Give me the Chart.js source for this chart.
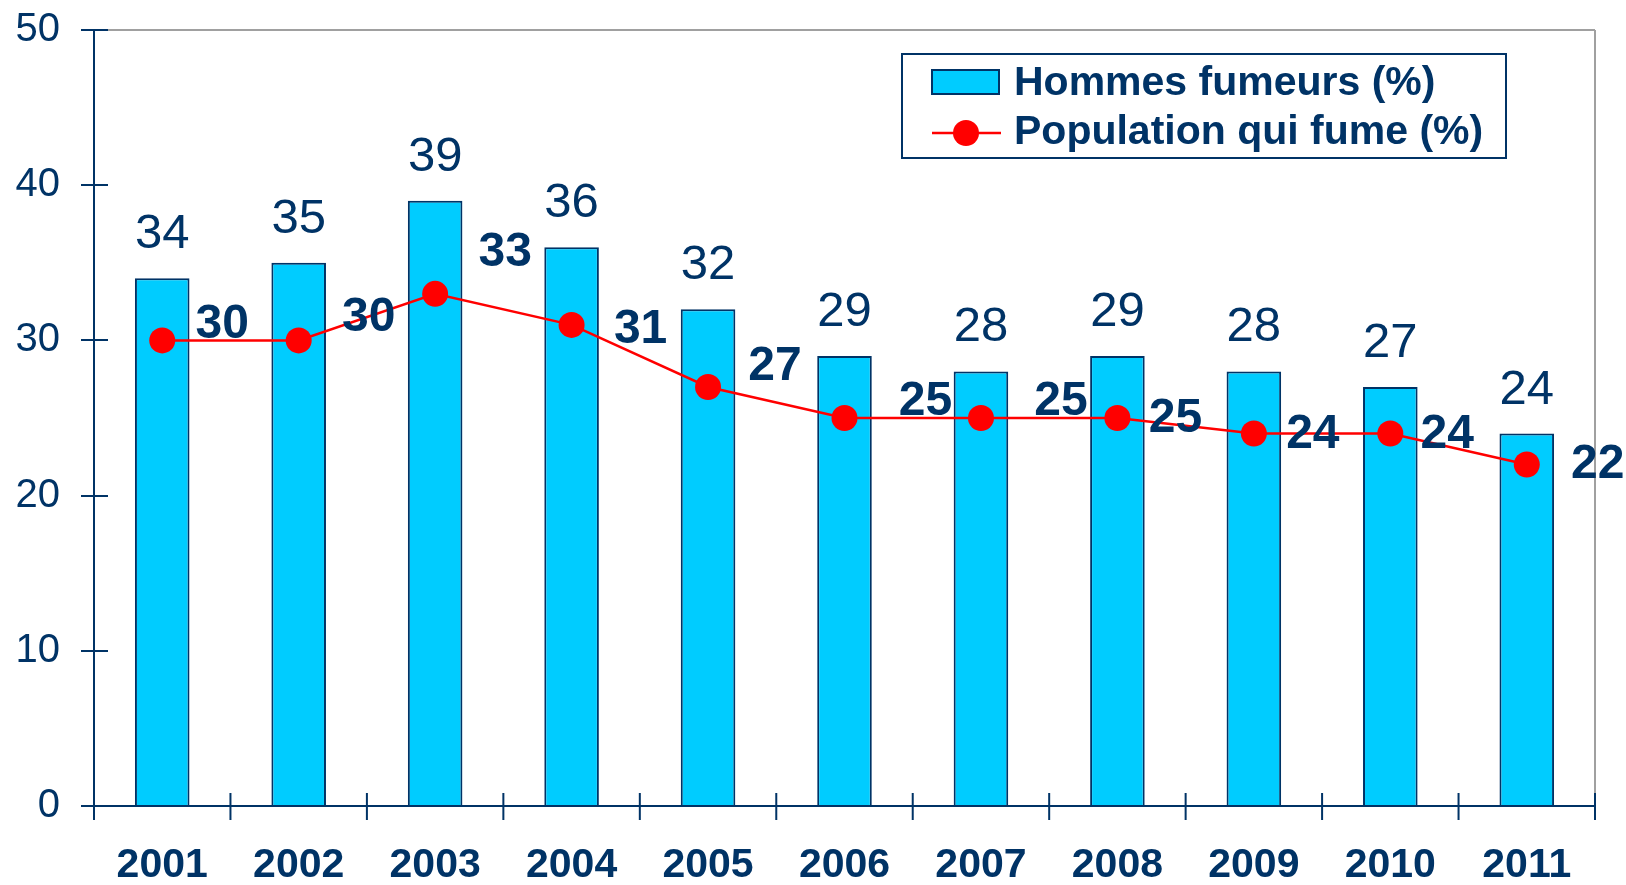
<!DOCTYPE html>
<html><head><meta charset="utf-8">
<script src="https://cdn.jsdelivr.net/npm/chart.js@4/dist/chart.umd.min.js"></script>
<style>html,body{margin:0;padding:0;background:#fff;overflow:hidden}#wrap{width:1626px;height:885px;position:relative}</style>
</head><body><div id="wrap"><canvas id="c" width="1626" height="885"></canvas></div>
<script>
const categories = ['2001','2002','2003','2004','2005','2006','2007','2008','2009','2010','2011'];
const hommesFumeurs = [34,35,39,36,32,29,28,29,28,27,24];
const populationFume = [30,30,33,31,27,25,25,25,24,24,22];
const yTicks = [0,10,20,30,40,50];
const seriesNames = ['Hommes fumeurs (%)','Population qui fume (%)'];
// label nudges (px) relative to each line point, as placed in the reference
const lineLabelNudge = [[60,-16],[70,-23],[70,-41],[69,5],[67,-20],[81,-16],[80,-16],[58,1],[59,1],[57,1],[71,0]];

const NAVY = '#003366';
const CYAN = '#00CCFF';
const RED = '#FF0000';
const GRAY = '#A0A0A0';
const FAM = '"Liberation Sans", Arial, Helvetica, sans-serif';

const decor = {
  id: 'decor',
  afterDatasetsDraw(chart) {
    const ctx = chart.ctx, a = chart.chartArea;
    const xs = chart.scales.x, ys = chart.scales.y;
    ctx.save();
    ctx.strokeStyle = GRAY; ctx.lineWidth = 2;
    ctx.beginPath();
    ctx.moveTo(a.left, a.top); ctx.lineTo(a.right, a.top);
    ctx.moveTo(a.right, a.top); ctx.lineTo(a.right, a.bottom);
    ctx.stroke();
    ctx.strokeStyle = NAVY; ctx.lineWidth = 2;
    ctx.beginPath();
    ctx.moveTo(a.left, a.top); ctx.lineTo(a.left, a.bottom + 14);
    ctx.moveTo(a.left, a.bottom); ctx.lineTo(a.right, a.bottom);
    yTicks.forEach(v => {
      const y = Math.round(ys.getPixelForValue(v));
      ctx.moveTo(a.left - 13, y); ctx.lineTo(a.left + 14, y);
    });
    const n = categories.length;
    for (let i = 1; i <= n; i++) {
      const x = (xs.getPixelForValue(i - 1) + (i < n ? xs.getPixelForValue(i) : 2 * xs.getPixelForValue(i - 1) - xs.getPixelForValue(i - 2))) / 2;
      ctx.moveTo(x, a.bottom - 13); ctx.lineTo(x, a.bottom + 14);
    }
    ctx.stroke();

    ctx.fillStyle = NAVY;
    ctx.textAlign = 'center'; ctx.textBaseline = 'alphabetic';
    ctx.font = '49px ' + FAM;
    const barMeta = chart.getDatasetMeta(1);
    barMeta.data.forEach((el, i) => {
      ctx.fillText(String(hommesFumeurs[i]), el.x, el.y - 30);
    });
    ctx.font = 'bold 48px ' + FAM;
    ctx.textBaseline = 'middle';
    const lineMeta = chart.getDatasetMeta(0);
    lineMeta.data.forEach((el, i) => {
      const d = lineLabelNudge[i];
      ctx.fillText(String(populationFume[i]), el.x + d[0], el.y + d[1]);
    });
    ctx.restore();
  },
  afterDraw(chart) {
    const ctx = chart.ctx;
    ctx.save();
    const L = 902, T = 54, R = 1506, B = 158;
    ctx.fillStyle = '#fff';
    ctx.fillRect(L, T, R - L, B - T);
    ctx.strokeStyle = NAVY; ctx.lineWidth = 2;
    ctx.strokeRect(L, T, R - L, B - T);
    ctx.fillStyle = CYAN;
    ctx.fillRect(932, 70, 67, 24);
    ctx.strokeStyle = NAVY; ctx.lineWidth = 2;
    ctx.strokeRect(932, 70, 67, 24);
    ctx.strokeStyle = RED; ctx.lineWidth = 2.5;
    ctx.beginPath(); ctx.moveTo(932, 133); ctx.lineTo(1001, 133); ctx.stroke();
    ctx.fillStyle = RED;
    ctx.beginPath(); ctx.arc(966, 133, 13, 0, Math.PI * 2); ctx.fill();
    ctx.fillStyle = NAVY;
    ctx.font = 'bold 41px ' + FAM;
    ctx.textAlign = 'left'; ctx.textBaseline = 'middle';
    ctx.fillText(seriesNames[0], 1014, 84);
    ctx.fillText(seriesNames[1], 1014, 133);
    ctx.restore();
  }
};

new Chart(document.getElementById('c'), {
  type: 'bar',
  data: {
    labels: categories,
    datasets: [
      {
        type: 'line', label: seriesNames[1], data: populationFume, order: 0,
        borderColor: RED, borderWidth: 2.5, backgroundColor: RED,
        pointRadius: 13, pointHoverRadius: 13, pointBackgroundColor: RED, pointBorderWidth: 0,
        tension: 0, fill: false
      },
      {
        type: 'bar', label: seriesNames[0], data: hommesFumeurs, order: 1,
        backgroundColor: CYAN, borderColor: NAVY, borderWidth: 2,
        barPercentage: 0.4, categoryPercentage: 1.0
      }
    ]
  },
  options: {
    responsive: false, maintainAspectRatio: false, animation: false, devicePixelRatio: 1,
    layout: { padding: { top: 30, right: 31, left: 0, bottom: 0 } },
    plugins: { legend: { display: false }, title: { display: false }, tooltip: { enabled: false } },
    scales: {
      x: {
        offset: true,
        grid: { display: false, drawTicks: false }, border: { display: false },
        ticks: { color: NAVY, font: { family: FAM, size: 41, weight: 'bold' }, padding: 35, maxRotation: 0, autoSkip: false },
        afterFit(s) { s.height = 79; s.paddingLeft = 0; s.paddingRight = 0; }
      },
      y: {
        min: 0, max: 50,
        grid: { display: false, drawTicks: false }, border: { display: false },
        ticks: { stepSize: 10, color: NAVY, font: { family: FAM, size: 40 }, padding: 34 },
        afterFit(s) { s.width = 94; s.paddingTop = 0; s.paddingBottom = 0; }
      }
    }
  },
  plugins: [decor]
});
</script></body></html>
